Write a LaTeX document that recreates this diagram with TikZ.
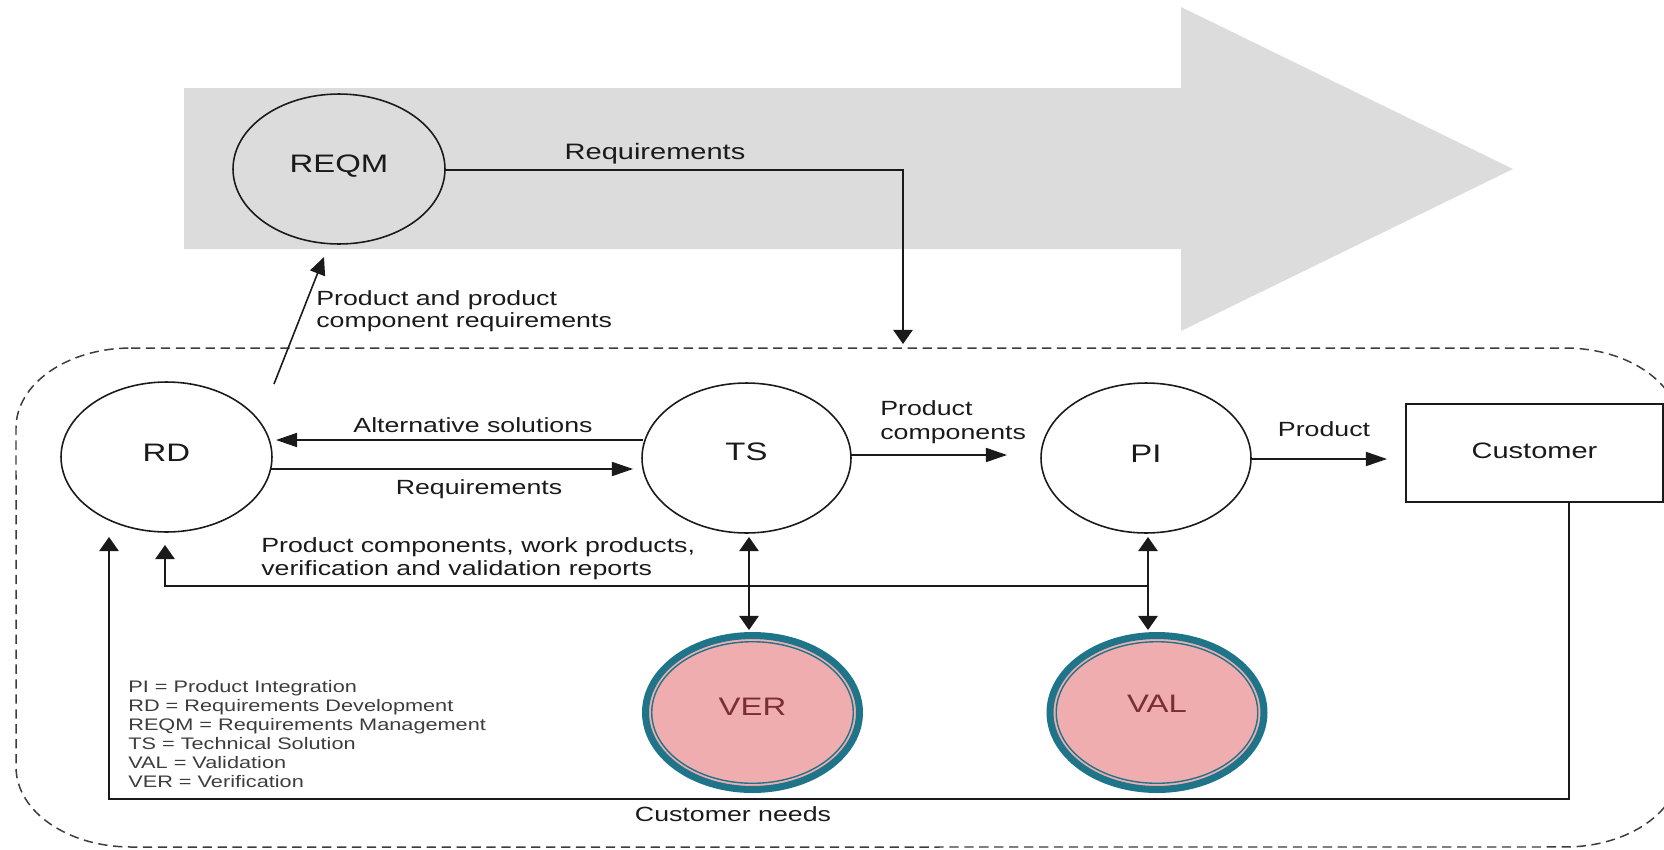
\documentclass[tikz,border=0pt]{standalone}
\usepackage{fontspec}
\setmainfont{Liberation Sans}[FakeStretch=1.3]
\usetikzlibrary{arrows.meta,shapes.geometric,calc}
\definecolor{bandgray}{RGB}{220,220,220}
\definecolor{ringteal}{RGB}{30,117,138}
\definecolor{rosefill}{RGB}{239,173,175}
\definecolor{wine}{RGB}{122,46,54}
\definecolor{ink}{RGB}{26,26,26}
\begin{document}
\begin{tikzpicture}[x=0.02cm,y=-0.02cm,
  proc/.style={ellipse, draw=ink, line width=0.9pt, inner sep=0pt, outer sep=0pt,
    minimum height=3cm, font=\fontsize{14.4}{16}\selectfont, text=ink, text height=10.3pt},
  checkproc/.style={ellipse, draw=ringteal, fill=rosefill, line width=4pt, inner sep=0pt,
    outer sep=0pt, minimum width=4.28cm, minimum height=3.08cm,
    font=\fontsize{14.4}{16}\selectfont, text=wine, text height=10.3pt},
  conn/.style={draw=ink, line width=0.9pt},
  hto/.style={conn, -{Triangle[length=12pt,width=8pt]}},
  vto/.style={conn, -{Triangle[length=8pt,width=11pt]}},
  vboth/.style={conn, {Triangle[length=8pt,width=11pt]}-{Triangle[length=8pt,width=11pt]}},
  lbl/.style={font=\fontsize{11.7}{13}\selectfont, text=ink, inner sep=0pt},
]
\useasboundingbox (0,0) rectangle (1664,849);
\clip (0,0) rectangle (1664,849);

% wide grey process arrow in the background
\fill[bandgray] (184,88) -- (1181,88) -- (1181,7) -- (1513,169) -- (1181,331)
  -- (1181,249) -- (184,249) -- cycle;

% dashed project boundary with elliptic corners
\draw[draw=ink!85, line width=0.85pt, dash pattern=on 5.3pt off 3.2pt]
  (131,348) -- (1565,348) arc[start angle=90,end angle=0,x radius=2.3cm,y radius=1.6cm]
  -- (1680,767) arc[start angle=0,end angle=-90,x radius=2.3cm,y radius=1.6cm]
  -- (131,847) arc[start angle=-90,end angle=-180,x radius=2.3cm,y radius=1.6cm]
  -- (16,428) arc[start angle=180,end angle=90,x radius=2.3cm,y radius=1.6cm] -- cycle;

% process areas
\node[proc, minimum width=4.24cm, text depth=6.2pt] (REQM) at (339,169) {REQM};
\node[proc, minimum width=4.22cm, text depth=5.1pt] (RD) at (166.5,457) {RD};
\node[proc, minimum width=4.18cm, text depth=7.4pt] (TS) at (746.5,458) {TS};
\node[proc, minimum width=4.2cm, text depth=5.1pt] (PI) at (1146,458) {PI};
\node[draw=ink, line width=0.9pt, minimum width=5.14cm, minimum height=1.96cm,
  inner sep=0pt, outer sep=0pt, font=\fontsize{12.7}{14}\selectfont, text=ink,
  text height=9.1pt, text depth=2.3pt] (Cust) at (1534.5,453) {Customer};

\node[checkproc, text depth=7.4pt] (VER) at (752.5,712.5) {VER};
\draw[ringteal, line width=0.8pt] (VER.center) ellipse [x radius=2.016cm, y radius=1.416cm];
\node[checkproc, text depth=10.8pt] (VAL) at (1157,712.5) {VAL};
\draw[ringteal, line width=0.8pt] (VAL.center) ellipse [x radius=2.016cm, y radius=1.416cm];

% requirements from REQM down into the project
\coordinate (reqCorner) at (903,170);
\coordinate (reqDrop) at (903,344);
\draw[vto] (REQM.east |- reqCorner) -- (reqCorner) -- (reqDrop);
\node[font=\fontsize{12.7}{14}\selectfont, text=ink, inner sep=0pt, anchor=base]
  (lblReqTop) at (655,159) {Requirements};

% product and product component requirements up to REQM
\coordinate (ppFoot) at (274,384);
\coordinate (ppHead) at (324,257);
\draw[conn, -{Triangle[length=10pt,width=9pt]}] (ppFoot) -- (ppHead);
\node[lbl, anchor=base west] (lblPP1) at (316,305.5) {Product and product};
\node[lbl, anchor=base west] (lblPP2) at (316,327.5) {component requirements};

% RD <-> TS
\draw[hto] ($(TS.west)+(1,-18)$) -- ($(RD.east)+(4,-17)$);
\node[lbl, anchor=base] (lblAlt) at (473,432) {Alternative solutions};
\draw[hto] ($(RD.east)+(-1,12)$) -- ($(TS.west)+(-9,11)$);
\node[lbl, anchor=base] (lblReq) at (479,494) {Requirements};

% TS -> PI -> Customer
\draw[hto] ($(TS.east)+(0,-3)$) -- ($(PI.west)+(-34,-3)$);
\node[lbl, anchor=base west] (lblPC1) at (880,415) {Product};
\node[lbl, anchor=base west] (lblPC2) at (880,439) {components};
\draw[hto] ($(PI.east)+(0,1)$) -- ($(Cust.west)+(-19,6)$);
\node[lbl, anchor=base] (lblProd) at (1324,436) {Product};

% verification and validation
\draw[vboth] ($(TS.south)+(2.5,4)$) -- ($(VER.north)+(-3.5,-5.5)$);
\draw[vboth] ($(PI.south)+(2,4)$) -- ($(VAL.north)+(-9,-5.5)$);

% reports back to RD
\coordinate (fbR) at (1148,586);
\coordinate (fbL) at (165,586);
\draw[vto] (fbR) -- (fbL) -- ($(RD.south)+(-1.5,13)$);
\node[lbl, anchor=base west] (lblFb1) at (261,552) {Product components, work products,};
\node[lbl, anchor=base west] (lblFb2) at (261,575) {verification and validation reports};

% customer needs back to RD
\coordinate (needsR) at (1569,799);
\coordinate (needsL) at (109,799);
\draw[vto] ($(Cust.south)+(34.5,0)$) -- (needsR) -- (needsL) -- ($(RD.south)+(-57.5,5)$);
\node[lbl, anchor=base] (lblNeeds) at (733,821) {Customer needs};

% abbreviations
\node[font=\fontsize{9.5}{10.8}\selectfont, text=ink!85, align=left, anchor=north west,
  inner sep=0pt] (legend) at (128,680)
  {PI = Product Integration\\
   RD = Requirements Development\\
   REQM = Requirements Management\\
   TS = Technical Solution\\
   VAL = Validation\\
   VER = Verification};
\end{tikzpicture}
\end{document}
